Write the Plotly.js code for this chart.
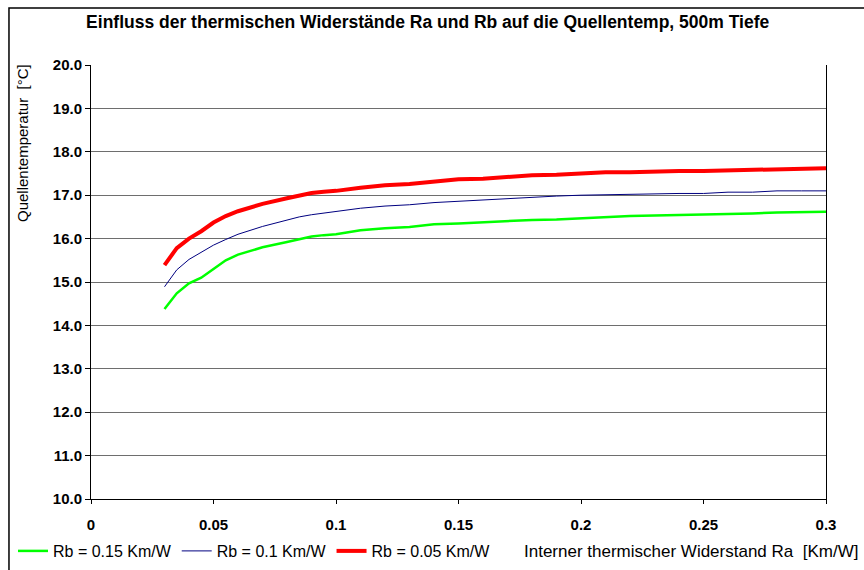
<!DOCTYPE html>
<html><head><meta charset="utf-8">
<script src="https://cdn.plot.ly/plotly-3.0.1.min.js"></script>
<style>html,body{margin:0;padding:0;background:#fff}#c{width:864px;height:570px}</style>
</head><body><div id="c"></div>
<script>
const ra = [0.03,0.035,0.04,0.045,0.05,0.055,0.06,0.07,0.08,0.085,0.09,0.095,0.1,0.11,0.12,0.13,0.14,0.15,0.16,0.17,0.18,0.19,0.2,0.21,0.22,0.23,0.24,0.25,0.26,0.27,0.28,0.29,0.3];
const tRb015 = [14.38,14.74,14.97,15.1,15.3,15.5,15.63,15.8,15.92,15.99,16.05,16.08,16.1,16.19,16.24,16.27,16.33,16.35,16.38,16.41,16.43,16.44,16.47,16.5,16.52,16.53,16.54,16.56,16.57,16.58,16.6,16.61,16.62];
const tRb010 = [14.89,15.28,15.52,15.68,15.85,15.98,16.1,16.28,16.43,16.5,16.55,16.59,16.62,16.7,16.75,16.78,16.83,16.86,16.9,16.93,16.96,16.98,17.0,17.01,17.02,17.04,17.04,17.04,17.07,17.07,17.1,17.1,17.1];
const tRb005 = [15.39,15.78,16.0,16.17,16.37,16.52,16.63,16.8,16.93,17.0,17.05,17.08,17.1,17.17,17.23,17.26,17.32,17.37,17.38,17.42,17.46,17.47,17.5,17.53,17.53,17.55,17.56,17.56,17.57,17.58,17.59,17.6,17.62];
const names = ['Rb = 0.15 Km/W','Rb = 0.1 Km/W','Rb = 0.05 Km/W'];
const xTicks = [0,0.05,0.1,0.15,0.2,0.25,0.3];
const xTickText = ['0','0.05','0.1','0.15','0.2','0.25','0.3'];
const yTicks = [10,11,12,13,14,15,16,17,18,19,20];
const yTickText = yTicks.map(v=>v.toFixed(1));

const F = 'Arial, "Liberation Sans", sans-serif';
const traces = [
  {x:ra,y:tRb015,name:names[0],mode:'lines',line:{color:'#00ff00',width:2.5}},
  {x:ra,y:tRb010,name:names[1],mode:'lines',line:{color:'#000080',width:1}},
  {x:ra,y:tRb005,name:names[2],mode:'lines',line:{color:'#ff0000',width:4}}
];
const layout = {
  width:864,height:570,
  margin:{l:91,r:38,t:65,b:71},
  paper_bgcolor:'#fff',plot_bgcolor:'#fff',
  font:{family:F,size:15,color:'#000'},
  title:{text:'<b>Einfluss der thermischen Widerstände Ra und Rb auf die Quellentemp, 500m Tiefe</b>',
         font:{family:F,size:17.5,color:'#000'},x:0.495,xanchor:'center',y:0.961,yanchor:'middle'},
  xaxis:{range:[0,0.3],tickvals:xTicks,ticktext:xTickText,showgrid:false,zeroline:false,
         showline:true,linecolor:'#000',linewidth:1,ticks:'outside',ticklen:4,tickcolor:'#000',
         ticklabelstandoff:8,
         tickfont:{family:F,size:15,color:'#000',weight:'bold'},fixedrange:true},
  yaxis:{range:[10,20],tickvals:yTicks,ticktext:yTickText,showgrid:true,gridcolor:'#6e6e6e',gridwidth:1,
         zeroline:false,showline:true,linecolor:'#000',linewidth:1,mirror:true,ticks:'outside',ticklen:5,
         tickcolor:'#000',tickfont:{family:F,size:15,color:'#000',weight:'bold'},fixedrange:true},
  showlegend:true,
  legend:{orientation:'h',xref:'container',yref:'container',x:13/864,xanchor:'left',y:19/570,yanchor:'middle',
          font:{family:F,size:16,color:'#000'},bgcolor:'rgba(0,0,0,0)',tracegroupgap:0,itemwidth:30},
  annotations:[
    {text:'Quellentemperatur  [°C]',xref:'paper',yref:'paper',x:-0.094,y:0.82,textangle:-90,
     showarrow:false,xanchor:'center',yanchor:'middle',font:{family:F,size:15,color:'#000'}},
    {text:'Interner thermischer Widerstand Ra&nbsp;&nbsp;[Km/W]',xref:'paper',yref:'paper',x:1.046,y:-0.12,
     showarrow:false,xanchor:'right',yanchor:'middle',font:{family:F,size:17,color:'#000'}}
  ],
  shapes:[
    {type:'rect',xref:'paper',yref:'paper',x0:-0.1116,x1:1.3,y0:-0.4,y1:1.1315,
     line:{color:'#000',width:1.5},fillcolor:'rgba(0,0,0,0)'}
  ]
};
Plotly.newPlot('c',traces,layout,{displayModeBar:false,staticPlot:true});
</script></body></html>
